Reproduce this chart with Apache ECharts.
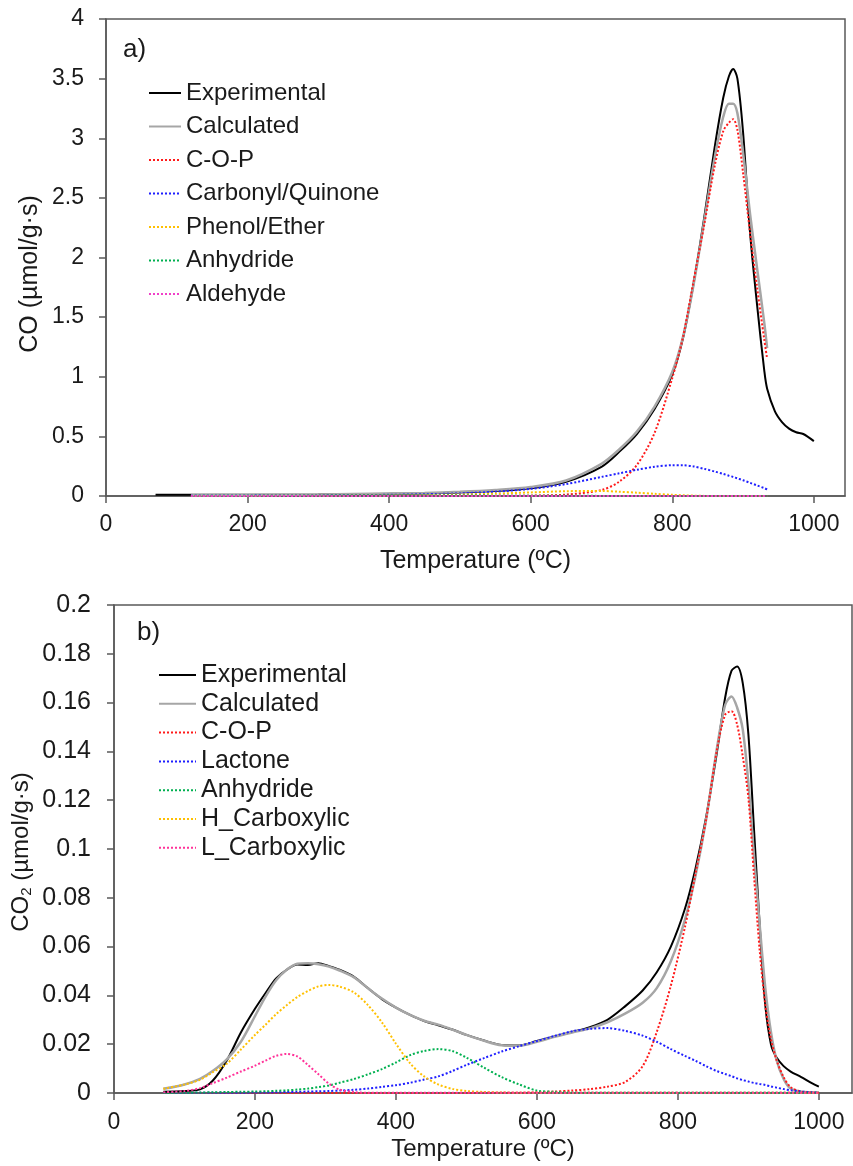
<!DOCTYPE html>
<html>
<head>
<meta charset="utf-8">
<script src="https://cdn.jsdelivr.net/npm/echarts@6/dist/echarts.min.js"></script>
<style>
  html, body { margin: 0; padding: 0; background: #ffffff; }
  #chart { width: 853px; height: 1166px; }
</style>
</head>
<body>
<div id="chart"></div>
<script>
// ---------- a) CO evolution (µmol/g·s) vs temperature ----------
const tempA = [70, 120, 200, 300, 400, 450, 500, 550, 600, 650, 700, 725, 750, 775, 800, 815, 830, 845,
  860, 872, 880, 886, 892, 900, 910, 920, 930, 934, 945, 955, 965, 975, 985, 1000];
const coExperimental = [0.01, 0.01, 0.01, 0.012, 0.018, 0.022, 0.03, 0.042, 0.065, 0.12, 0.245, 0.37, 0.52, 0.73,
  1.02, 1.32, 1.78, 2.33, 2.93, 3.34, 3.52, 3.58, 3.50, 3.05, 2.20, 1.59, 1.05, 0.90, 0.71, 0.62, 0.565, 0.535, 0.52, 0.46];
const coCalculated = [null, 0.006, 0.009, 0.013, 0.02, 0.026, 0.035, 0.05, 0.075, 0.13, 0.27, 0.39, 0.54, 0.75,
  1.04, 1.33, 1.77, 2.30, 2.84, 3.18, 3.29, 3.29, 3.21, 2.88, 2.36, 1.90, 1.45, 1.24, null, null, null, null, null, null];
const coCOP = [null, 0, 0, 0, 0, 0, 0.0005, 0.001, 0.003, 0.012, 0.05, 0.12, 0.26, 0.53,
  0.99, 1.33, 1.80, 2.27, 2.77, 3.06, 3.13, 3.16, 3.07, 2.71, 2.20, 1.74, 1.31, 1.15, null, null, null, null, null, null];
const coCarbonyl = [null, 0.002, 0.003, 0.005, 0.01, 0.015, 0.022, 0.036, 0.06, 0.10, 0.16, 0.19, 0.22, 0.245,
  0.258, 0.258, 0.248, 0.228, 0.205, 0.185, 0.17, 0.16, 0.148, 0.132, 0.11, 0.088, 0.066, 0.055, null, null, null, null, null, null];
const coPhenol = [null, 0.001, 0.001, 0.002, 0.005, 0.008, 0.013, 0.02, 0.03, 0.04, 0.042, 0.036, 0.028, 0.018,
  0.01, 0.006, 0.003, 0.001, 0, 0, 0, 0, 0, 0, 0, 0, 0, 0, null, null, null, null, null, null];
const coAnhydride = [null, 0.001, 0.002, 0.003, 0.004, 0.004, 0.004, 0.003, 0.003, 0.002, 0.001, 0.001, 0.001, 0.001,
  0.001, 0.001, 0.001, 0.001, 0.001, 0.001, 0.001, 0.001, 0.001, 0.001, 0.001, 0.001, 0.001, 0.001, null, null, null, null, null, null];
const coAldehyde = [null, 0.0005, 0.0005, 0.0005, 0.0005, 0.0005, 0.0005, 0.0005, 0.0005, 0.0005, 0.0005, 0.0005, 0.0005, 0.0005,
  0.0005, 0.0005, 0.0005, 0.0005, 0.0005, 0.0005, 0.0005, 0.0005, 0.0005, 0.0005, 0.0005, 0.0005, 0.0005, 0.0005, null, null, null, null, null, null];

// ---------- b) CO2 evolution (µmol/g·s) vs temperature ----------
const tempB = [70, 100, 122, 140, 160, 180, 200, 215, 230, 245, 260, 275, 290, 305, 320, 340, 360, 380, 400, 420,
  440, 460, 480, 500, 525, 550, 575, 600, 625, 650, 675, 700, 725, 750, 770, 790, 810, 825, 840, 855,
  867, 876, 884, 892, 900, 908, 916, 924, 932, 940, 950, 960, 975, 990, 1000];
const co2Experimental = [0.0005, 0.0008, 0.0015, 0.005, 0.0133, 0.0248, 0.0345, 0.041, 0.047, 0.0505, 0.0527, 0.0525, 0.0532, 0.052, 0.0505,
  0.0477, 0.043, 0.0385, 0.035, 0.032, 0.0295, 0.0278, 0.026, 0.0238, 0.0215, 0.0197, 0.0195, 0.0213, 0.0232, 0.025,
  0.027, 0.030, 0.0355, 0.042, 0.0495, 0.060, 0.0755, 0.092, 0.113, 0.139, 0.162, 0.173, 0.1748, 0.168, 0.147,
  0.108, 0.069, 0.036, 0.020, 0.0145, 0.011, 0.0088, 0.0065, 0.004, 0.0026];
const co2Calculated = [0.0017, 0.0035, 0.0058, 0.009, 0.0138, 0.021, 0.0315, 0.0395, 0.0462, 0.0505, 0.053, 0.0532, 0.0528, 0.0518, 0.0502,
  0.0475, 0.043, 0.0387, 0.035, 0.032, 0.0296, 0.028, 0.026, 0.0238, 0.0214, 0.0196, 0.0194, 0.021, 0.023, 0.0248,
  0.0265, 0.029, 0.0325, 0.037, 0.043, 0.054, 0.071, 0.089, 0.112, 0.1406, 0.159, 0.1625, 0.158, 0.149, 0.127,
  0.097, 0.069, 0.043, 0.025, 0.0135, 0.0058, 0.0018, 0.0005, 0.0003, 0.0002];
const co2COP = [0, 0, 0, 0, 0, 0, 0, 0, 0, 0, 0, 0, 0, 0, 0,
  0, 0, 0, 0, 0, 0, 0, 0, 0, 0.0001, 0.0001, 0.0001, 0.0003, 0.0006, 0.001,
  0.0016, 0.0026, 0.0045, 0.011, 0.025, 0.044, 0.068, 0.090, 0.112, 0.14, 0.155, 0.1565, 0.151, 0.138, 0.121,
  0.089, 0.0586, 0.036, 0.022, 0.0135, 0.0065, 0.0024, 0.0006, 0.0002, 0.0001];
const co2Lactone = [0, 0, 0.0001, 0.0001, 0.0001, 0.0001, 0.0002, 0.0002, 0.0003, 0.0004, 0.0005, 0.0006, 0.0007, 0.0008, 0.001,
  0.0013, 0.0018, 0.0025, 0.0032, 0.0042, 0.0055, 0.0068, 0.009, 0.0115, 0.0143, 0.017, 0.0192, 0.0213, 0.0234, 0.0253,
  0.0263, 0.0266, 0.0255, 0.0235, 0.021, 0.018, 0.0152, 0.0132, 0.011, 0.009, 0.0078, 0.0069, 0.006, 0.0053, 0.0047,
  0.0041, 0.0037, 0.0033, 0.0027, 0.0022, 0.0016, 0.0011, 0.0006, 0.0003, 0.0002];
const co2Anhydride = [0, 0.0001, 0.0002, 0.0003, 0.0004, 0.0005, 0.0006, 0.0007, 0.0009, 0.0011, 0.0014, 0.0018, 0.0024, 0.0031, 0.0042,
  0.0057, 0.0076, 0.0098, 0.0125, 0.0155, 0.0172, 0.018, 0.0172, 0.0145, 0.0104, 0.0065, 0.0035, 0.001, 0.0005, 0.0002,
  0.0001, 0.0001, 0.0001, 0.0001, 0.0001, 0.0001, 0.0001, 0.0001, 0.0001, 0.0001, 0.0001, 0.0001, 0.0001, 0.0001, 0.0001,
  0.0001, 0.0001, 0.0001, 0.0001, 0.0001, 0.0001, 0.0001, 0.0001, 0.0001, 0.0001];
const co2HCarboxylic = [0.0017, 0.0035, 0.0054, 0.0085, 0.012, 0.0178, 0.0238, 0.028, 0.0323, 0.036, 0.0393, 0.0418, 0.0437, 0.0443, 0.0436,
  0.0413, 0.0361, 0.029, 0.0202, 0.0122, 0.0068, 0.0035, 0.0017, 0.0008, 0.0004, 0.0002, 0.0001, 0.0001, 0.0001, 0.0001,
  0.0001, 0.0001, 0.0001, 0.0001, 0.0001, 0.0001, 0.0001, 0.0001, 0.0001, 0.0001, 0.0001, 0.0001, 0.0001, 0.0001, 0.0001,
  0.0001, 0.0001, 0.0001, 0.0001, 0.0001, 0.0001, 0.0001, 0.0001, 0.0001, 0.0001];
const co2LCarboxylic = [0.0003, 0.0008, 0.002, 0.004, 0.0063, 0.0088, 0.0112, 0.0133, 0.0152, 0.016, 0.015, 0.0115, 0.0077, 0.0038, 0.0014,
  0.0004, 0.0001, 0.0001, 0.0001, 0.0001, 0.0001, 0.0001, 0.0001, 0.0001, 0.0001, 0.0001, 0.0001, 0.0001, 0.0001, 0.0001,
  0.0001, 0.0001, 0.0001, 0.0001, 0.0001, 0.0001, 0.0001, 0.0001, 0.0001, 0.0001, 0.0001, 0.0001, 0.0001, 0.0001, 0.0001,
  0.0001, 0.0001, 0.0001, 0.0001, 0.0001, 0.0001, 0.0001, 0.0001, 0.0001, 0.0001];

// tick values
const xTicks = [0, 200, 400, 600, 800, 1000];
const yTicksA = [0, 0.5, 1, 1.5, 2, 2.5, 3, 3.5, 4];
const yTicksB = [0, 0.02, 0.04, 0.06, 0.08, 0.1, 0.12, 0.14, 0.16, 0.18, 0.2];

const FONT = "'Liberation Sans', Arial, Helvetica, sans-serif";
const TEXT = '#1a1a1a';
const AXIS = '#595959';

function pairs(temps, vals) {
  const out = [];
  temps.forEach((t, i) => { if (vals[i] !== null && vals[i] !== undefined) out.push([t, vals[i]]); });
  return out;
}

function line(name, temps, vals, color, width, type, idx) {
  return {
    name: name, type: 'line', xAxisIndex: idx, yAxisIndex: idx,
    data: pairs(temps, vals), showSymbol: false, symbol: 'none', smooth: 0.3,
    lineStyle: { color: color, width: width, type: type }, itemStyle: { color: color },
    emphasis: { disabled: true }
  };
}

const RED = '#ff1a1a', BLUE = '#1f1fff', YELLOW = '#ffc000', GREEN = '#00b050';

const series = [
  line('Experimental', tempA, coExperimental, '#000000', 2, 'solid', 0),
  line('Calculated', tempA, coCalculated, '#a6a6a6', 2.5, 'solid', 0),
  line('C-O-P', tempA, coCOP, RED, 2, 'dotted', 0),
  line('Carbonyl/Quinone', tempA, coCarbonyl, BLUE, 2, 'dotted', 0),
  line('Phenol/Ether', tempA, coPhenol, YELLOW, 2, 'dotted', 0),
  line('Anhydride', tempA, coAnhydride, GREEN, 2, 'dotted', 0),
  line('Aldehyde', tempA, coAldehyde, '#f040c8', 2, 'dotted', 0),

  line('Experimental', tempB, co2Experimental, '#000000', 2, 'solid', 1),
  line('Calculated', tempB, co2Calculated, '#a6a6a6', 2.5, 'solid', 1),
  line('C-O-P', tempB, co2COP, RED, 2, 'dotted', 1),
  line('Lactone', tempB, co2Lactone, BLUE, 2, 'dotted', 1),
  line('Anhydride', tempB, co2Anhydride, GREEN, 2, 'dotted', 1),
  line('H_Carboxylic', tempB, co2HCarboxylic, YELLOW, 2, 'dotted', 1),
  line('L_Carboxylic', tempB, co2LCarboxylic, '#ff3399', 2, 'dotted', 1)
];

function xAxis(idx, max, labelSize, labelMargin, nameSize, nameGap) {
  return {
    type: 'value', gridIndex: idx, min: 0, max: max, interval: 200,
    name: 'Temperature (ºC)', nameLocation: 'middle', nameGap: nameGap,
    nameTextStyle: { fontFamily: FONT, fontSize: nameSize, color: TEXT },
    axisLine: { show: true, lineStyle: { color: AXIS, width: 1.5 } },
    axisTick: { show: true, inside: false, length: 7, customValues: xTicks, lineStyle: { color: AXIS, width: 1.5 } },
    axisLabel: { customValues: xTicks, formatter: (v) => String(v), fontFamily: FONT, fontSize: labelSize, color: TEXT, margin: labelMargin },
    splitLine: { show: false }
  };
}

function yAxis(idx, max, interval, ticks, labelSize, margin) {
  return {
    type: 'value', gridIndex: idx, min: 0, max: max, interval: interval,
    axisLine: { show: true, lineStyle: { color: AXIS, width: 1.5 } },
    axisTick: { show: true, inside: false, length: 7, customValues: ticks, lineStyle: { color: AXIS, width: 1.5 } },
    axisLabel: { customValues: ticks, fontFamily: FONT, fontSize: labelSize, color: TEXT, margin: margin },
    splitLine: { show: false }
  };
}

function legend(names, left, top, itemWidth, fontSize, itemGap) {
  return {
    orient: 'vertical', left: left, top: top, padding: 0,
    itemWidth: itemWidth, itemHeight: 12, itemGap: itemGap,
    selectedMode: false,
    itemStyle: { opacity: 0 },
    data: names,
    textStyle: { fontFamily: FONT, fontSize: fontSize, color: TEXT, lineHeight: 26 }
  };
}

const chart = echarts.init(document.getElementById('chart'), null, { renderer: 'canvas' });
chart.setOption({
  animation: false,
  backgroundColor: '#ffffff',
  grid: [
    { left: 106, top: 19, width: 739, height: 477, show: true, borderColor: AXIS, borderWidth: 1.5, containLabel: false },
    { left: 114, top: 605, width: 738, height: 488, show: true, borderColor: AXIS, borderWidth: 1.5, containLabel: false }
  ],
  xAxis: [xAxis(0, 1044, 23, 17, 25, 53), xAxis(1, 1047, 23, 18, 24, 44)],
  yAxis: [yAxis(0, 4, 0.5, yTicksA, 23, 22), yAxis(1, 0.2, 0.02, yTicksB, 25, 23)],
  legend: [
    legend(['Experimental', 'Calculated', 'C-O-P', 'Carbonyl/Quinone', 'Phenol/Ether', 'Anhydride', 'Aldehyde'], 148, 80, 32, 24, 7.5),
    legend(['Experimental', 'Calculated', 'C-O-P', 'Lactone', 'Anhydride', 'H_Carboxylic', 'L_Carboxylic'], 158, 662, 37, 25, 2.8)
  ],
  graphic: [
    { type: 'text', x: 123, y: 50, style: { text: 'a)', font: '26px ' + FONT, fill: TEXT, align: 'left', verticalAlign: 'middle' } },
    { type: 'text', x: 137, y: 633, style: { text: 'b)', font: '26px ' + FONT, fill: TEXT, align: 'left', verticalAlign: 'middle' } },
    { type: 'text', x: 30, y: 274, rotation: Math.PI / 2,
      style: { text: 'CO (µmol/g·s)', font: '25px ' + FONT, fill: TEXT, align: 'center', verticalAlign: 'middle' } },
    { type: 'text', x: 21, y: 852, rotation: Math.PI / 2,
      style: {
        text: '{m|CO}{s|2}{m| (µmol/g·s)}', align: 'center', verticalAlign: 'middle', fill: TEXT,
        rich: {
          m: { fontFamily: FONT, fontSize: 24, lineHeight: 27, fill: TEXT, color: TEXT },
          s: { fontFamily: FONT, fontSize: 15, lineHeight: 27, fill: TEXT, color: TEXT, verticalAlign: 'bottom', padding: [8, 0, 0, 0] }
        }
      } }
  ],
  series: series
});
</script>
</body>
</html>
